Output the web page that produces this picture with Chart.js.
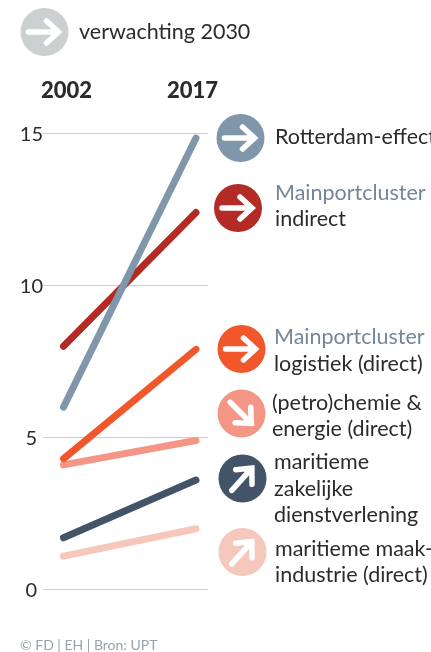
<!DOCTYPE html>
<html>
<head>
<meta charset="utf-8">
<style>
  html, body { margin: 0; padding: 0; background: #fff; }
  #wrap { position: relative; width: 431px; height: 652px; }
</style>
<script src="https://cdn.jsdelivr.net/npm/chart.js@4"></script>
</head>
<body>
<div id="wrap"><canvas id="chart"></canvas></div>
<script>
const years = [2002, 2017];
const yTicks = [0, 5, 10, 15];

const rotterdamEffect = [6.0, 14.85];
const mainportIndirect = [8.0, 12.4];
const mainportLogistiek = [4.3, 7.9];
const petrochemie = [4.1, 4.9];
const maritiemeDienst = [1.7, 3.6];
const maritiemeMaak = [1.1, 2.0];

const seriesNames = [
  "Rotterdam-effect",
  "Mainportcluster indirect",
  "Mainportcluster logistiek (direct)",
  "(petro)chemie & energie (direct)",
  "maritieme zakelijke dienstverlening",
  "maritieme maakindustrie (direct)",
];
const seriesValues = [rotterdamEffect, mainportIndirect, mainportLogistiek, petrochemie, maritiemeDienst, maritiemeMaak];
const seriesColors = ["#8097ab", "#b22b25", "#f2572b", "#f49686", "#445468", "#f5c7bd"];

const FONT = "Lato, sans-serif";
const TEXT = "#2b2b2b";
const BLUE_TEXT = "#73879b";

// the year labels sit slightly inside the line ends
const yearLabelPositions = [2002.34, 2016.6];

// arrow badges, angle in degrees (0 = pointing right)
const badges = [
  { x: 44.5, y: 32, color: "#ccd0d0", angle: 0 },
  { x: 240.5, y: 138, color: seriesColors[0], angle: 0 },
  { x: 238, y: 208, color: seriesColors[1], angle: 0 },
  { x: 241.5, y: 349, color: seriesColors[2], angle: 0 },
  { x: 241.5, y: 413.5, color: seriesColors[3], angle: 45 },
  { x: 242.5, y: 478.5, color: seriesColors[4], angle: -48 },
  { x: 242.5, y: 552, color: seriesColors[5], angle: -48 },
];

const labels = [
  { text: "verwachting 2030", x: 79, y: 32 },
  { text: "Rotterdam-effect", x: 275, y: 137 },
  { text: "Mainportcluster", x: 275, y: 193, color: BLUE_TEXT },
  { text: "indirect", x: 275, y: 219 },
  { text: "Mainportcluster", x: 274, y: 337, color: BLUE_TEXT },
  { text: "logistiek (direct)", x: 274, y: 364 },
  { text: "(petro)chemie &", x: 272, y: 403 },
  { text: "energie (direct)", x: 272, y: 429 },
  { text: "maritieme", x: 274, y: 462 },
  { text: "zakelijke", x: 274, y: 489 },
  { text: "dienstverlening", x: 274, y: 515 },
  { text: "maritieme maak-", x: 275, y: 549 },
  { text: "industrie (direct)", x: 275, y: 575 },
];

const annotations = {
  id: "annotations",
  afterDraw(chart) {
    const ctx = chart.ctx;
    ctx.save();
    badges.forEach((b) => {
      ctx.fillStyle = b.color;
      ctx.beginPath();
      ctx.arc(b.x, b.y, 24, 0, Math.PI * 2);
      ctx.fill();

      ctx.save();
      ctx.translate(b.x, b.y);
      ctx.rotate((b.angle * Math.PI) / 180);
      ctx.strokeStyle = "#fff";
      ctx.lineWidth = 5.5;
      ctx.lineCap = "round";
      ctx.lineJoin = "miter";
      ctx.beginPath();
      ctx.moveTo(-16, 0);
      ctx.lineTo(13, 0);
      ctx.moveTo(2, -11);
      ctx.lineTo(14, 0);
      ctx.lineTo(2, 11);
      ctx.stroke();
      ctx.restore();
    });

    ctx.font = "21.5px " + FONT;
    ctx.textBaseline = "middle";
    labels.forEach((l) => {
      ctx.fillStyle = l.color || TEXT;
      ctx.fillText(l.text, l.x, l.y);
    });

    ctx.font = "14px " + FONT;
    ctx.fillStyle = "#97a4ae";
    ctx.fillText("© FD | EH | Bron: UPT", 20, 645);
    ctx.restore();
  },
};

new Chart(document.getElementById("chart"), {
  type: "line",
  data: {
    datasets: seriesNames.map((name, i) => ({
      label: name,
      data: years.map((year, j) => ({ x: year, y: seriesValues[i][j] })),
      borderColor: seriesColors[i],
      borderWidth: 7,
      borderCapStyle: "round",
      pointRadius: 0,
      clip: false,
    })),
  },
  options: {
    responsive: true,
    maintainAspectRatio: false,
    animation: false,
    layout: { padding: { left: 13, right: 223, top: 0, bottom: 62.5 } },
    plugins: { legend: { display: false }, tooltip: { enabled: false } },
    scales: {
      x: {
        type: "linear",
        position: "top",
        min: 1999.68,
        max: 2018.36,
        afterBuildTicks: (axis) => {
          axis.ticks = yearLabelPositions.map((v) => ({ value: v }));
        },
        afterFit: (axis) => {
          axis.height = 133.5;
        },
        grid: { display: false },
        border: { display: false },
        ticks: {
          callback: (v, i) => String(years[i]),
          color: TEXT,
          font: { family: FONT, size: 22, weight: "900" },
          padding: 21,
          maxRotation: 0,
        },
      },
      y: {
        min: 0,
        max: 15,
        afterBuildTicks: (axis) => {
          axis.ticks = yTicks.map((v) => ({ value: v }));
        },
        afterFit: (axis) => {
          axis.width = 30;
        },
        grid: { color: "#c9cfd1", lineWidth: 1, drawTicks: false },
        border: { display: false },
        ticks: {
          color: TEXT,
          font: { family: FONT, size: 20 },
          crossAlign: "center",
          padding: 0,
          labelOffset: 1.5,
        },
      },
    },
  },
  plugins: [annotations],
});
</script>
</body>
</html>
